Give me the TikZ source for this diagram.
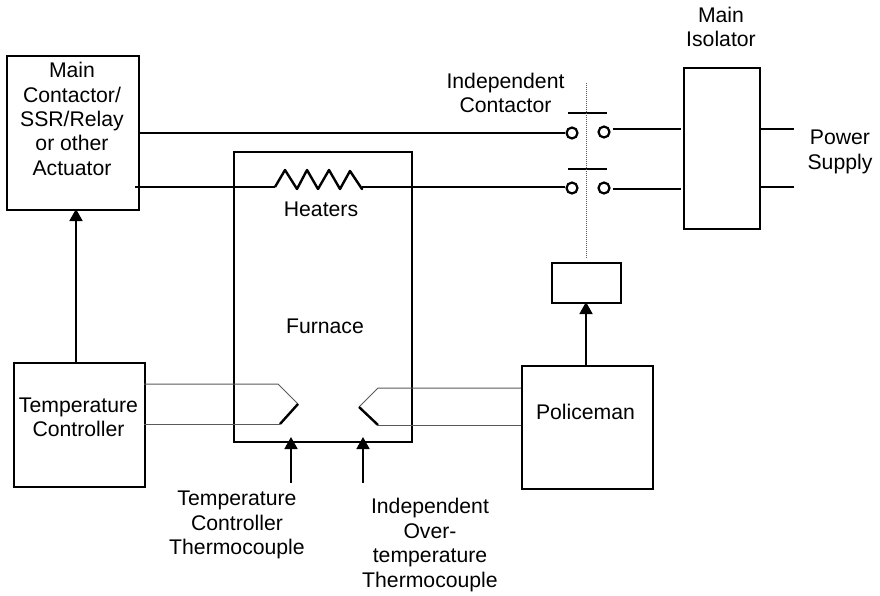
\documentclass[tikz,border=0pt]{standalone}
\usepackage{fontspec}
\setmainfont{Liberation Sans}
\usetikzlibrary{arrows.meta}
\definecolor{inkgray}{gray}{0.35}
\tikzset{
  x=1pt,y=-1pt,
  box/.style={draw=black,line width=2.4pt,rectangle,inner sep=0pt,anchor=north west},
  lbl/.style={align=center,inner sep=0pt,font=\fontsize{21.2}{24.4}\selectfont},
  wire/.style={line width=2.4pt,draw=black},
  tc/.style={line width=1pt,draw=inkgray,line join=miter},
  tcthick/.style={line width=2.4pt,draw=black},
  contact/.style={draw=black,line width=2.2pt,circle,fill=white,minimum size=11pt,inner sep=0pt},
  arrowline/.style={line width=1.8pt,draw=black,-{Triangle[length=12pt,width=13pt]}}
}
\begin{document}
\begin{tikzpicture}
\useasboundingbox (0,0) rectangle (880,595);
% boxes
\node[box,minimum width=132pt,minimum height=154pt] (mc) at (6,55) {};
\node[box,minimum width=178pt,minimum height=290pt] (fur) at (233,151) {};
\node[box,minimum width=131.5pt,minimum height=124pt] (tctl) at (12.5,362) {};
\node[box,minimum width=131pt,minimum height=123pt] (pol) at (521,365) {};
\node[box,minimum width=69pt,minimum height=40pt] (coil) at (551,262) {};
\node[box,minimum width=76pt,minimum height=161pt] (iso) at (683,67) {};
% contacts
\node[contact] (c1) at (572,133) {};
\node[contact] (c2) at (604,132) {};
\node[contact] (c3) at (572,188) {};
\node[contact] (c4) at (604,188) {};
% free-end coordinates
\coordinate (mcA) at (138,133);
\coordinate (mcB) at (135,187);
\coordinate (hL) at (275,187);
\coordinate (hR) at (362,187);
\coordinate (c3L) at (565,187);
\coordinate (c1L) at (565,133);
\coordinate (isoA) at (681,129);
\coordinate (isoB) at (681,189);
\coordinate (c2R) at (613,129);
\coordinate (c4R) at (613,189);
\coordinate (psA0) at (759,129);
\coordinate (psA) at (794,129);
\coordinate (psB0) at (759,187);
\coordinate (psB) at (794,187);
\coordinate (bar1a) at (568,113);
\coordinate (bar1b) at (607,113);
\coordinate (bar2a) at (568,169);
\coordinate (bar2b) at (607,169);
\coordinate (dotTop) at (586,83);
\coordinate (dotBot) at (586,258);
\coordinate (a0s) at (76,362);
\coordinate (a0e) at (76,209);
\coordinate (a3s) at (586,365);
\coordinate (a3e) at (586,302);
\coordinate (a1s) at (291,483);
\coordinate (a1e) at (291,437);
\coordinate (a2s) at (363,483);
\coordinate (a2e) at (363,437);
% wires
\draw[wire] (mcA) -- (c1L);
\draw[wire] (mcB) -- (hL);
\draw[wire,line join=round] (hL) -- (285,170) -- (297,189) -- (307,170) -- (318,189) -- (329,170) -- (340,189) -- (350,171) -- (362,189) -- (hR);
\draw[wire] (hR) -- (c3L);
\draw[wire] (c2R) -- (isoA);
\draw[wire] (c4R) -- (isoB);
\draw[wire] (psA0) -- (psA);
\draw[wire] (psB0) -- (psB);
\draw[wire] (bar1a) -- (bar1b);
\draw[wire] (bar2a) -- (bar2b);
\draw[line width=1pt,densely dotted,draw=inkgray] (dotTop) -- (dotBot);
% arrows
\draw[arrowline] (a0s) -- (a0e);
\draw[arrowline] (a3s) -- (a3e);
\draw[arrowline] (a1s) -- (a1e);
\draw[arrowline] (a2s) -- (a2e);
% thermocouples
\coordinate (tL0) at (144,384);
\coordinate (tL3) at (144,424);
\coordinate (tL1) at (278,384);
\coordinate (tLm) at (298,404);
\coordinate (tL2) at (280,424);
\coordinate (tR0) at (521,388);
\coordinate (tR3) at (521,425);
\coordinate (tR1) at (378,388);
\coordinate (tRm) at (359,407);
\coordinate (tR2) at (378,425);
\draw[tc] (tL0) -- (tL1) -- (tLm);
\draw[tc] (tL3) -- (tL2);
\draw[tcthick] (tLm) -- (tL2);
\draw[tc] (tR0) -- (tR1) -- (tRm);
\draw[tc] (tR3) -- (tR2);
\draw[tcthick] (tRm) -- (tR2);
% labels
\node[lbl] (t1) at (72,119) {Main\\Contactor/\\SSR/Relay\\or other\\Actuator};
\node[lbl] (t2) at (321,209.5) {Heaters};
\node[lbl] (t3) at (325,326) {Furnace};
\node[lbl] (t4) at (78.5,417.5) {Temperature\\Controller};
\node[lbl] (t5) at (585.5,412) {Policeman};
\node[lbl] (t6) at (721,27) {Main\\Isolator};
\node[lbl] (t7) at (505.5,93) {Independent\\Contactor};
\node[lbl] (t8) at (840,152) {Power\\Supply};
\node[lbl] (t9) at (237,525) {Temperature\\Controller\\Thermocouple};
\node[lbl] (t10) at (430,545) {Independent\\Over-\\temperature\\Thermocouple};
\end{tikzpicture}
\end{document}
